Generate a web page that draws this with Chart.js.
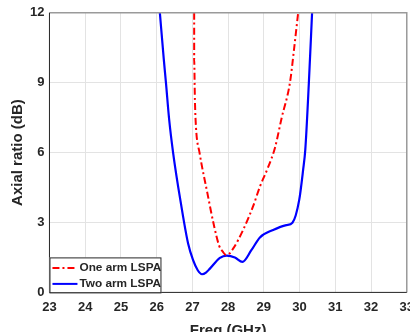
<!DOCTYPE html>
<html>
<head>
<meta charset="utf-8">
<script src="https://cdn.jsdelivr.net/npm/chart.js@4/dist/chart.umd.min.js"></script>
<style>
html, body { margin: 0; padding: 0; background: #fff; overflow: hidden; }
#wrap { position: relative; width: 421px; height: 340px; }
</style>
</head>
<body>
<div id="wrap"><canvas id="arplot"></canvas></div>
<script>
// Axial ratio vs frequency
const oneArmFreq = [27.05, 27.05, 27.07, 27.1, 27.2, 27.42, 27.6, 27.75, 27.85, 27.93, 27.98, 28.14, 28.42, 28.7, 28.89, 29.1, 29.31, 29.5, 29.73, 29.85, 29.96];
const oneArmAR   = [12, 10, 8.3, 7.1, 6.0, 4.26, 2.9, 2.0, 1.75, 1.62, 1.62, 1.88, 2.68, 3.7, 4.54, 5.3, 6.2, 7.5, 9, 10.5, 12];
const twoArmFreq = [26.09, 26.2, 26.26, 26.35, 26.46, 26.6, 26.74, 26.88, 27.02, 27.15, 27.27, 27.38, 27.49, 27.77, 27.96, 28.19, 28.4, 28.65, 28.89, 29.26, 29.63, 29.8, 29.99, 30.1, 30.16, 30.26, 30.35];
const twoArmAR   = [12, 10, 9, 7.42, 6.0, 4.55, 3.25, 2.1, 1.38, 0.95, 0.78, 0.85, 1.02, 1.48, 1.58, 1.5, 1.31, 1.81, 2.36, 2.68, 2.89, 2.99, 3.97, 5.27, 6.13, 9, 12];
const seriesNames = ['One arm LSPA', 'Two arm LSPA'];
const xMin = 23, xMax = 33, yMin = 0, yMax = 12;
const axisColor = '#262626';
Chart.defaults.font.family = "'Liberation Sans', Arial, sans-serif";
Chart.defaults.font.weight = 'bold';

function toPoints(xs, ys) {
	return xs.map((x, i) => ({x: x, y: ys[i]}));
}

// MATLAB style box around the axes + legend inside lower left corner
const boxLegend = {
	id: 'boxLegend',
	afterDatasetsDraw(chart) {
		const ctx = chart.ctx, a = chart.chartArea;
		ctx.save();
		ctx.lineWidth = 1.5;
		ctx.strokeStyle = '#9a9a9a';
		ctx.beginPath();
		ctx.moveTo(a.left, a.top);
		ctx.lineTo(a.right, a.top);
		ctx.lineTo(a.right, a.bottom);
		ctx.stroke();
		ctx.strokeStyle = axisColor;
		ctx.lineWidth = 1;
		ctx.beginPath();
		ctx.moveTo(a.left, a.top);
		ctx.lineTo(a.left, a.bottom);
		ctx.lineTo(a.right, a.bottom);
		ctx.stroke();

		// legend
		const bx = a.left, bw = 112, bh = 35, by = a.bottom - bh;
		ctx.fillStyle = '#fff';
		ctx.fillRect(bx, by, bw, bh);
		ctx.strokeStyle = axisColor;
		ctx.lineWidth = 1;
		ctx.strokeRect(bx + 0.5, by + 0.5, bw - 1, bh);
		ctx.font = "bold 11.8px 'Liberation Sans', Arial, sans-serif";
		ctx.textBaseline = 'middle';
		chart.data.datasets.forEach((ds, i) => {
			const yy = by + 10.5 + i * 16;
			ctx.strokeStyle = ds.borderColor;
			ctx.lineWidth = 2;
			ctx.setLineDash(ds.borderDash || []);
			ctx.beginPath();
			ctx.moveTo(bx + 3, yy);
			ctx.lineTo(bx + 28, yy);
			ctx.stroke();
			ctx.setLineDash([]);
			ctx.fillStyle = axisColor;
			ctx.fillText(ds.label, bx + 30, yy);
		});
		ctx.restore();
	}
};

new Chart('arplot', {
	type: 'line',
	data: {
		datasets: [{
			label: seriesNames[0],
			data: toPoints(oneArmFreq, oneArmAR),
			borderColor: '#ff0000',
			borderWidth: 2,
			borderDash: [7, 3, 2, 3],
			pointRadius: 0,
			fill: false,
			cubicInterpolationMode: 'monotone'
		}, {
			label: seriesNames[1],
			data: toPoints(twoArmFreq, twoArmAR),
			borderColor: '#0000ff',
			borderWidth: 2.2,
			pointRadius: 0,
			fill: false,
			cubicInterpolationMode: 'monotone'
		}]
	},
	options: {
		responsive: true,
		maintainAspectRatio: false,
		animation: false,
		layout: { padding: { top: 9, left: 10, right: 0, bottom: 0 } },
		plugins: {
			legend: { display: false },
			tooltip: { enabled: false }
		},
		scales: {
			x: {
				type: 'linear',
				min: xMin,
				max: xMax,
				ticks: { stepSize: 1, color: axisColor, font: { size: 13, weight: 'bold' }, padding: 7 },
				grid: { color: '#e3e3e3', drawTicks: false },
				border: { display: false },
				title: { display: true, text: 'Freq (GHz)', color: axisColor, font: { size: 15, weight: 'bold' }, padding: { top: 0, bottom: 0 } }
			},
			y: {
				min: yMin,
				max: yMax,
				ticks: { stepSize: 3, color: axisColor, font: { size: 13, weight: 'bold' }, padding: 5 },
				grid: { color: '#e3e3e3', drawTicks: false },
				border: { display: false },
				title: { display: true, text: 'Axial ratio (dB)', color: axisColor, font: { size: 15, weight: 'bold', lineHeight: 1 }, padding: { top: 0, bottom: 0 } }
			}
		}
	},
	plugins: [boxLegend]
});
</script>
</body>
</html>
